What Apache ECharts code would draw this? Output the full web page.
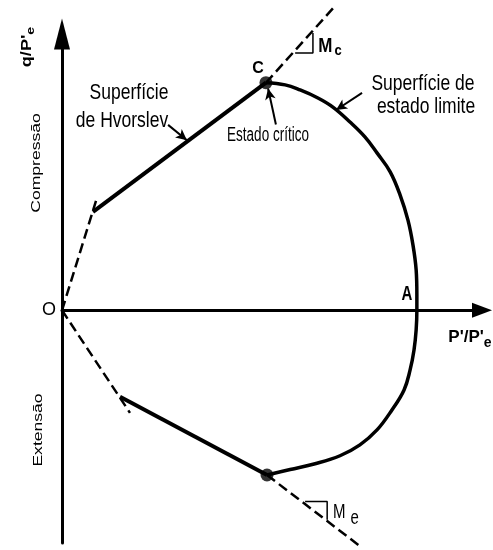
<!DOCTYPE html>
<html>
<head>
<meta charset="utf-8">
<script src="https://cdn.jsdelivr.net/npm/echarts@6/dist/echarts.min.js"></script>
<style>
  html, body { margin: 0; padding: 0; background: #fff; }
  #chart { width: 493px; height: 550px; }
</style>
</head>
<body>
<div id="chart"></div>
<script>
// Normalised stress plane: p'/p'e horizontally, q/p'e vertically.
const pRange = [0, 1.18];
const qRange = [-0.64, 0.76];

// Hvorslev surface (compression and extension branches)
const hvorslevComp = [[0.087, 0.271], [0.573, 0.626]];
const hvorslevExt = [[0.163, -0.238], [0.576, -0.453]];

// State boundary (Roscoe) surface from C through A to the extension critical state
const stateBoundary = [
  [0.573, 0.626], [0.627, 0.620], [0.669, 0.606], [0.719, 0.584], [0.761, 0.559],
  [0.809, 0.518], [0.851, 0.477], [0.885, 0.433], [0.922, 0.381], [0.950, 0.317],
  [0.972, 0.248], [0.986, 0.180], [0.995, 0.111], [0.997, 0.043], [0.997, 0.000],
  [0.995, -0.054], [0.989, -0.109], [0.978, -0.164], [0.961, -0.219], [0.927, -0.274],
  [0.885, -0.329], [0.837, -0.370], [0.781, -0.400], [0.711, -0.422], [0.641, -0.438],
  [0.576, -0.453]
];

// Tension cut-off lines from the origin
const noTensionComp = [[0, 0], [0.0955, 0.301]];
const noTensionExt = [[0, 0], [0.191, -0.282]];

// Critical state lines (slopes Mc and Me)
const cslComp = [[0.573, 0.626], [0.770, 0.840]];
const cslExt = [[0.576, -0.453], [0.843, -0.653]];

// Slope triangles
const slopeMc = [[0.655, 0.708], [0.705, 0.708], [0.705, 0.763]];
const slopeMe = [[0.683, -0.526], [0.745, -0.526], [0.745, -0.576]];

// Critical state points
const criticalPoints = [[0.573, 0.626], [0.576, -0.453]];

// Annotation leaders: [from, to]
const leaders = [
  [[0.298, 0.510], [0.351, 0.468]],
  [[0.601, 0.511], [0.579, 0.610]],
  [[0.843, 0.598], [0.770, 0.551]]
];

const ink = '#000';
const sans = '"Liberation Sans", Arial, sans-serif';

function lineSeries(data, width, dashed, extra) {
  return Object.assign({
    type: 'line',
    data: data,
    symbol: 'none',
    silent: true,
    lineStyle: { color: ink, width: width, type: dashed ? [10, 5] : 'solid', cap: 'butt' }
  }, extra || {});
}

// Text set in a narrow face: a group carries position, rotation and stretch
function label(x, y, text, opt) {
  opt = opt || {};
  return {
    type: 'group',
    x: x, y: y,
    rotation: opt.rotation || 0,
    scaleX: opt.scaleX || 1,
    scaleY: opt.scaleY || 1,
    silent: true,
    children: [{
      type: 'text',
      x: 0, y: 0,
      silent: true,
      style: {
        text: text,
        font: opt.font || ('17px ' + sans),
        fill: ink,
        align: 'center',
        verticalAlign: 'middle',
        rich: opt.rich
      }
    }]
  };
}

const chart = echarts.init(document.getElementById('chart'), null, { renderer: 'canvas' });

chart.setOption({
  animation: false,
  backgroundColor: '#fff',
  grid: { left: 62, right: 11, top: 34, bottom: 7, containLabel: false },
  xAxis: {
    type: 'value', min: pRange[0], max: pRange[1],
    axisLine: { onZero: true, symbol: ['none', 'triangle'], symbolSize: [15, 20],
      lineStyle: { color: ink, width: 3 } },
    axisTick: { show: false }, axisLabel: { show: false }, splitLine: { show: false }
  },
  yAxis: {
    type: 'value', min: qRange[0], max: qRange[1],
    axisLine: { show: true, symbol: ['none', 'triangle'], symbolSize: [16, 31],
      lineStyle: { color: ink, width: 3 } },
    axisTick: { show: false }, axisLabel: { show: false }, splitLine: { show: false }
  },
  series: [
    lineSeries(noTensionComp, 2.5, true),
    lineSeries(noTensionExt, 2.5, true),
    lineSeries(cslComp, 2.5, true, { clip: false }),
    lineSeries(cslExt, 2.5, true, { clip: false }),
    lineSeries(hvorslevComp, 4, false),
    lineSeries(hvorslevExt, 4, false),
    lineSeries(stateBoundary, 3.5, false, {
      smooth: 0.4,
      markLine: {
        silent: true,
        symbol: ['none', 'arrow'],
        symbolSize: [8, 11],
        label: { show: false },
        lineStyle: { color: ink, width: 2, type: 'solid' },
        data: leaders.map(function (l) { return [{ coord: l[0] }, { coord: l[1] }]; })
      }
    }),
    lineSeries(slopeMc, 1.5, false, { clip: false }),
    lineSeries(slopeMe, 1.5, false, { clip: false }),
    {
      type: 'scatter', data: criticalPoints, symbol: 'circle', symbolSize: 13,
      itemStyle: { color: ink }, silent: true
    }
  ],
  graphic: [
    label(27, 47, '{a|q/P\'}{b|e}', { rotation: Math.PI / 2, scaleX: 1.3,
      rich: { a: { font: 'bold 14px ' + sans, fill: ink },
              b: { font: 'bold 11px ' + sans, fill: ink, padding: [8, 0, 0, 0] } } }),
    label(36, 163, 'Compressão', { rotation: Math.PI / 2, scaleX: 1.3, font: '13.5px ' + sans }),
    label(38, 430, 'Extensão', { rotation: Math.PI / 2, scaleX: 1.3, font: '13.5px ' + sans }),
    label(49, 310, 'O', { font: '18px ' + sans }),
    label(407, 295, 'A', { font: 'bold 15px ' + sans, scaleY: 1.3 }),
    label(470, 337, '{a|P\'/P\'}{b|e}', {
      rich: { a: { font: 'bold 17px ' + sans, fill: ink },
              b: { font: 'bold 14px ' + sans, fill: ink, padding: [12, 0, 0, 0] } } }),
    label(258, 69, 'C', { font: 'bold 16px ' + sans }),
    label(330, 47, '{a|M}{b|c}', { scaleY: 1.15,
      rich: { a: { font: 'bold 17px ' + sans, fill: ink },
              b: { font: 'bold 13px ' + sans, fill: ink, padding: [6, 0, 0, 2] } } }),
    label(346, 513, '{a|M}{b|e}', { scaleY: 1.3,
      rich: { a: { font: '15px ' + sans, fill: ink },
              b: { font: '15px ' + sans, fill: ink, padding: [9, 0, 0, 5] } } }),
    label(129, 93, 'Superfície', { font: '17.5px ' + sans, scaleY: 1.3 }),
    label(122, 121, 'de Hvorslev', { font: '17.5px ' + sans, scaleY: 1.3 }),
    label(268, 136, 'Estado crítico', { font: '13.5px ' + sans, scaleY: 1.45 }),
    label(423, 84, 'Superfície de', { font: '17.5px ' + sans, scaleY: 1.3 }),
    label(426, 107, 'estado limite', { font: '17.5px ' + sans, scaleY: 1.3 })
  ]
});
</script>
</body>
</html>
